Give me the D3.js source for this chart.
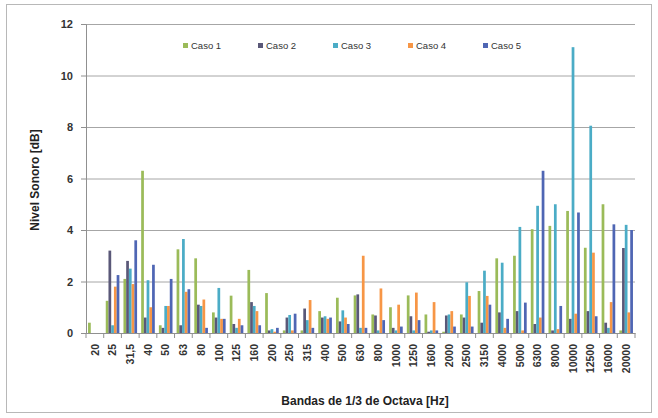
<!DOCTYPE html>
<html>
<head>
<meta charset="utf-8">
<script src="https://cdn.jsdelivr.net/npm/d3@7"></script>
<style>
  body { margin: 0; background: #fff; }
  text { font-family: "Liberation Sans", Arial, sans-serif; }
</style>
</head>
<body>
<div id="chart"></div>
<script>
const bands = ["20", "25", "31,5", "40", "50", "63", "80", "100", "125", "160", "200", "250", "315", "400", "500",
    "630", "800", "1000", "1250", "1600", "2000", "2500", "3150", "4000", "5000", "6300", "8000", "10000", "12500", "16000", "20000"];
const seriesNames = ["Caso 1", "Caso 2", "Caso 3", "Caso 4", "Caso 5"];
const caso1 = [0.4, 1.25, 2.1, 6.3, 0.3, 3.25, 2.9, 0.8, 1.45, 2.45, 1.55, 0.1, 0.1, 0.85, 1.37, 1.46, 0.72, 1.0, 1.46, 0.72, 0.05, 0.72, 1.63, 2.9, 3.0, 4.03, 4.16, 4.74, 3.31, 5.0, 0.1];
const caso2 = [0, 3.2, 2.8, 0.6, 0.2, 0.3, 1.1, 0.6, 0.35, 1.2, 0.1, 0.6, 0.95, 0.6, 0.45, 1.5, 0.68, 0.2, 0.65, 0.05, 0.68, 0.6, 0.4, 0.8, 0.85, 0.35, 0.1, 0.55, 0.85, 0.4, 3.3];
const caso3 = [0, 0.3, 2.5, 2.05, 1.05, 3.65, 1.05, 1.75, 0.2, 1.05, 0.15, 0.7, 0.5, 0.65, 0.88, 0.2, 0.1, 0.1, 0.1, 0.1, 0.72, 1.97, 2.42, 2.73, 4.12, 4.94, 5.0, 11.1, 8.05, 0.2, 4.2];
const caso4 = [0, 1.8, 1.9, 1.0, 1.05, 1.6, 1.3, 0.55, 0.55, 0.85, 0.05, 0.1, 1.28, 0.55, 0.6, 3.0, 1.73, 1.1, 1.57, 1.2, 0.85, 1.44, 1.44, 0.2, 0.1, 0.6, 0.15, 0.75, 3.12, 1.2, 0.8];
const caso5 = [0, 2.25, 3.6, 2.65, 2.1, 1.7, 0.2, 0.55, 0.3, 0.3, 0.2, 0.75, 0.2, 0.6, 0.35, 0.2, 0.5, 0.25, 0.5, 0.1, 0.25, 0.25, 1.1, 0.55, 1.18, 6.3, 1.05, 4.68, 0.65, 4.22, 4.0];
const yTicks = [0, 2, 4, 6, 8, 10, 12];

const colors = ["#9bbb59", "#5a5878", "#4bacc6", "#f79646", "#4f66b4"];
const allSeries = [caso1, caso2, caso3, caso4, caso5];

const W = 658, H = 418;
const margin = { top: 24, right: 23, bottom: 85, left: 86 };
const width = W - margin.left - margin.right;
const height = H - margin.top - margin.bottom;

const root = d3.select("#chart").append("svg")
    .attr("width", W)
    .attr("height", H);

// outer frame
root.append("rect")
    .attr("x", 6.5).attr("y", 4.5)
    .attr("width", 645).attr("height", 408)
    .attr("fill", "none")
    .attr("stroke", "#b8b8b8");

const svg = root.append("g")
    .attr("transform", `translate(${margin.left},${margin.top})`);

const x = d3.scaleBand()
    .domain(bands)
    .range([0, width])
    .padding(0);

const xIn = d3.scaleBand()
    .domain(seriesNames)
    .range([0, x.bandwidth()])
    .paddingOuter(0.75)
    .paddingInner(0);

const y = d3.scaleLinear()
    .domain([0, 12])
    .range([height, 0]);

// gridlines
svg.append("g")
    .call(d3.axisLeft(y).tickValues(yTicks).tickSize(-width).tickFormat(""))
    .call(g => g.select(".domain").remove())
    .call(g => g.selectAll("line").attr("stroke", "#a6a6a6"));

// y axis
svg.append("g")
    .call(d3.axisLeft(y).tickValues(yTicks).tickSize(5).tickPadding(8))
    .call(g => g.select(".domain").attr("stroke", "#909090"))
    .call(g => g.selectAll("line").attr("stroke", "#909090"))
    .call(g => g.selectAll("text").attr("font-size", 11).attr("font-weight", "bold").attr("fill", "#333"));

// bars
const rows = bands.map((b, i) => ({ band: b, vals: allSeries.map((s, k) => ({ name: seriesNames[k], v: s[i], k })) }));

svg.selectAll("g.grp")
    .data(rows)
    .enter()
    .append("g")
    .attr("class", "grp")
    .attr("transform", d => `translate(${x(d.band)},0)`)
    .selectAll("rect")
    .data(d => d.vals)
    .enter()
    .append("rect")
    .attr("x", d => xIn(d.name))
    .attr("y", d => y(d.v))
    .attr("width", xIn.bandwidth())
    .attr("height", d => height - y(d.v))
    .attr("fill", d => colors[d.k]);

// x axis
const xAxis = svg.append("g")
    .attr("transform", `translate(0,${height})`)
    .call(d3.axisBottom(x).tickSize(0).tickPadding(0));
xAxis.select(".domain").attr("stroke", "#909090");
xAxis.selectAll("text")
    .attr("font-size", 10.5)
    .attr("font-weight", "bold")
    .attr("fill", "#333")
    .attr("transform", "translate(0,11)rotate(-90)")
    .attr("dy", "0.35em")
    .style("text-anchor", "end");

// tick marks at band boundaries
svg.append("g")
    .selectAll("line")
    .data(d3.range(bands.length + 1))
    .enter()
    .append("line")
    .attr("x1", i => i * x.step())
    .attr("x2", i => i * x.step())
    .attr("y1", height)
    .attr("y2", height + 5)
    .attr("stroke", "#909090");

// legend
const legend = root.append("g").attr("transform", "translate(183,46)");
seriesNames.forEach((n, k) => {
    const g = legend.append("g").attr("transform", `translate(${k * 75},0)`);
    g.append("rect").attr("x", 0).attr("y", -3).attr("width", 5).attr("height", 5).attr("fill", colors[k]);
    g.append("text").attr("x", 8).attr("y", 0).attr("dy", "0.35em")
        .attr("font-size", 9.5).attr("fill", "#333").text(n);
});

// axis titles
root.append("text")
    .attr("text-anchor", "middle")
    .attr("transform", "rotate(-90)")
    .attr("x", -180)
    .attr("y", 39)
    .attr("font-size", 12)
    .attr("font-weight", "bold")
    .attr("fill", "#222")
    .text("Nivel Sonoro [dB]");

root.append("text")
    .attr("text-anchor", "middle")
    .attr("x", 365)
    .attr("y", 405)
    .attr("font-size", 12)
    .attr("font-weight", "bold")
    .attr("fill", "#222")
    .text("Bandas de 1/3 de Octava [Hz]");
</script>
</body>
</html>
